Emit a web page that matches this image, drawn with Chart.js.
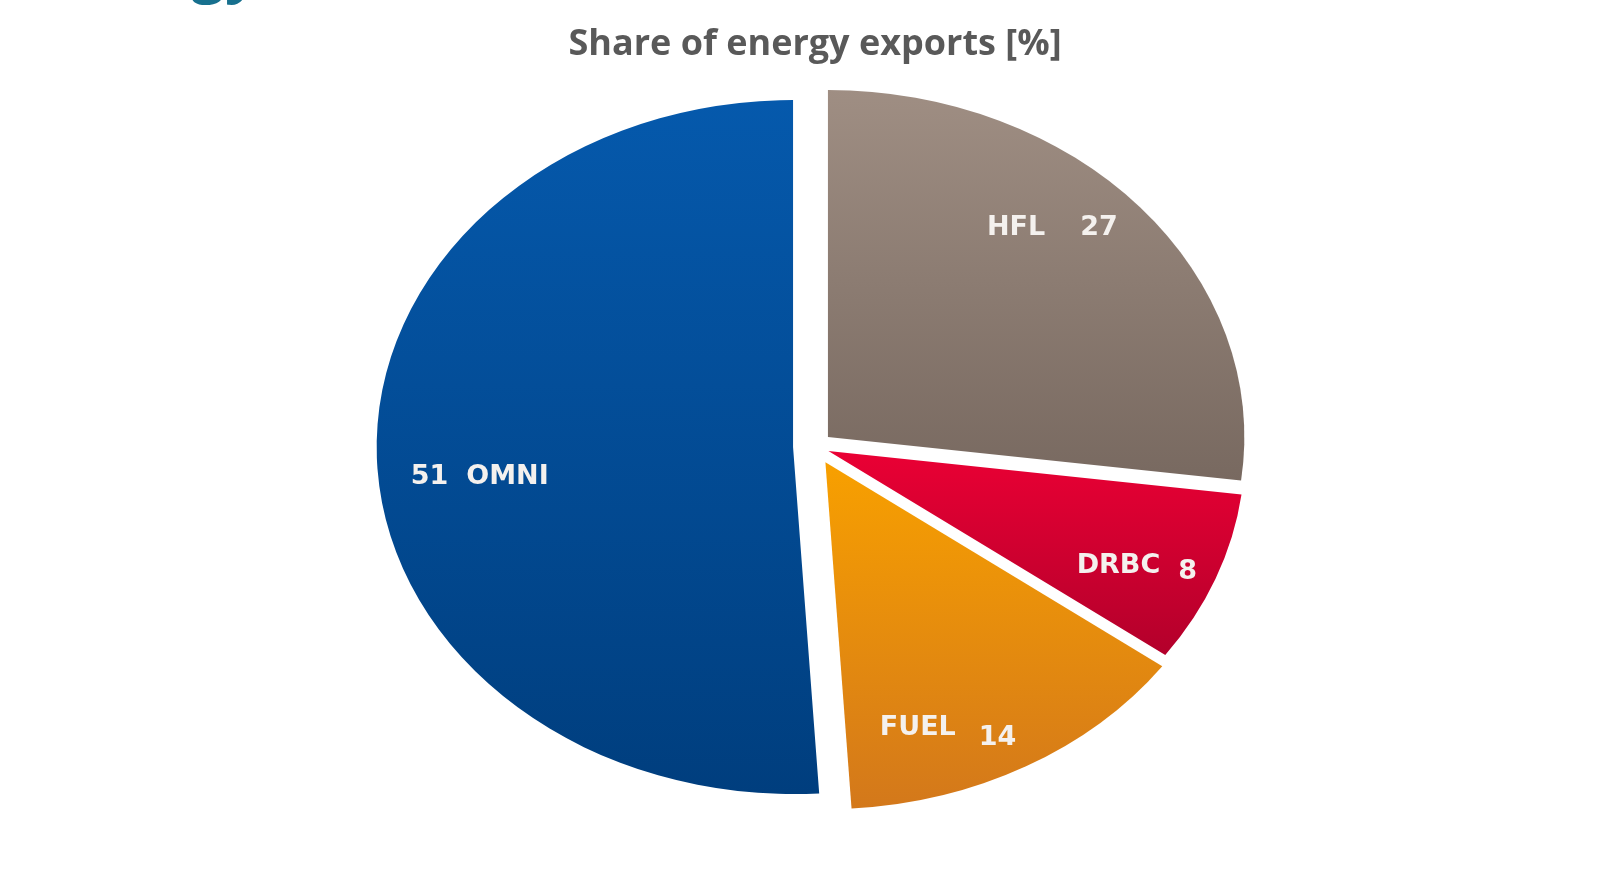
<!DOCTYPE html>
<html lang="en">
<head>
<meta charset="UTF-8">
<title>Share of energy exports</title>
<script src="https://cdn.jsdelivr.net/npm/chart.js"></script>
<style>
  html, body { margin: 0; padding: 0; background: #fff; }
  body { width: 1599px; height: 883px; overflow: hidden; position: relative; }
  .headline { position: absolute; left: 191px; top: -74px; font: bold 60px "Open Sans", sans-serif; color: #17708e; }
  #pie { position: absolute; left: 0; top: 0; }
</style>
</head>
<body>
<div class="headline">gy</div>
<canvas id="pie" width="1599" height="883"></canvas>
<script>
// slices, clockwise from 12 o'clock
const categories = ["HFL", "DRBC", "FUEL", "OMNI"];
const shares = [27, 8, 14, 51];

const topColors = ["#9f8e83", "#ea0034", "#f8a000", "#0559ac"];
const bottomColors = ["#786960", "#b3002b", "#d3781b", "#003e7e"];
// how far each slice is pulled out from the centre (px, before the ellipse stretch)
const pullOut = [14.4, 12, 18, 18.3];

// label placement: turn from mid angle (deg), radius fraction, gap between parts, drop of the value
const labelTurn = [-6.5, 2.4, 7.3, -4.4];
const labelRadius = [0.85, 0.846, 0.872, 0.81];
const labelGap = [35, 18, 23, 18];
const valueDrop = [0, 6, 10, 0];
const valueFirst = [false, false, false, true];

const xStretch = 1.2;   // pie is drawn as an ellipse

function sliceFill(ctx) {
    const chart = ctx.chart;
    const area = chart.chartArea;
    const i = ctx.dataIndex;
    if (!area) return topColors[i];
    const cy = (area.top + area.bottom) / 2;
    const r = Math.min(area.right - area.left, area.bottom - area.top) / 2;
    const total = shares.reduce((a, b) => a + b, 0);
    let before = 0;
    for (let j = 0; j < i; j++) before += shares[j];
    const a0 = before / total * 2 * Math.PI;
    const a1 = (before + shares[i]) / total * 2 * Math.PI;
    const ys = [cy, cy - r * Math.cos(a0), cy - r * Math.cos(a1)];
    if (a0 <= 0 || a1 >= 2 * Math.PI) ys.push(cy - r);
    if (a0 < Math.PI && a1 > Math.PI) ys.push(cy + r);
    const g = chart.ctx.createLinearGradient(0, Math.min(...ys), 0, Math.max(...ys));
    g.addColorStop(0, topColors[i]);
    g.addColorStop(1, bottomColors[i]);
    return g;
}

const ellipsePie = {
    id: 'ellipsePie',
    // draw each arc stretched into an ellipse and pulled out along its mid angle
    beforeDatasetDraw(chart, args) {
        const c = chart.ctx;
        args.meta.data.forEach((arc, i) => {
            const mid = (arc.startAngle + arc.endAngle) / 2;
            c.save();
            c.translate(arc.x, 0);
            c.scale(xStretch, 1);
            c.translate(-arc.x, 0);
            c.translate(Math.cos(mid) * pullOut[i], Math.sin(mid) * pullOut[i]);
            arc.draw(c);
            c.restore();
        });
        return false;
    },
    afterDatasetsDraw(chart) {
        const c = chart.ctx;
        c.save();
        c.font = 'bold 27px "DejaVu Sans"';
        c.fillStyle = '#f4f1ee';
        c.textBaseline = 'middle';
        c.textAlign = 'left';
        chart.getDatasetMeta(0).data.forEach((arc, i) => {
            const mid = (arc.startAngle + arc.endAngle) / 2 + labelTurn[i] * Math.PI / 180;
            const rr = arc.outerRadius * labelRadius[i];
            const x = arc.x + xStretch * Math.cos(mid) * rr;
            const y = arc.y + Math.sin(mid) * rr;
            const name = categories[i];
            const value = String(shares[i]);
            const first = valueFirst[i] ? value : name;
            const second = valueFirst[i] ? name : value;
            const w1 = c.measureText(first).width;
            const w2 = c.measureText(second).width;
            const left = x - (w1 + labelGap[i] + w2) / 2;
            c.fillText(first, left, y + (valueFirst[i] ? valueDrop[i] : 0));
            c.fillText(second, left + w1 + labelGap[i], y + (valueFirst[i] ? 0 : valueDrop[i]));
        });
        c.restore();
    }
};

new Chart(document.getElementById('pie'), {
    type: 'pie',
    data: {
        labels: categories,
        datasets: [{
            data: shares,
            backgroundColor: sliceFill,
            borderWidth: 0,
            hoverBorderWidth: 0,
            hoverOffset: 0
        }]
    },
    options: {
        responsive: false,
        animation: false,
        devicePixelRatio: 1,
        layout: { padding: { left: 31, right: 0, top: 0, bottom: 89.5 } },
        plugins: {
            legend: { display: false },
            tooltip: { enabled: false },
            title: {
                display: true,
                text: 'Share of energy exports [%]',
                color: '#595959',
                font: { family: '"Open Sans"', size: 36, weight: 'bold', lineHeight: 1 },
                padding: { top: 27, bottom: 36.5 }
            }
        }
    },
    plugins: [ellipsePie]
});
</script>
</body>
</html>
